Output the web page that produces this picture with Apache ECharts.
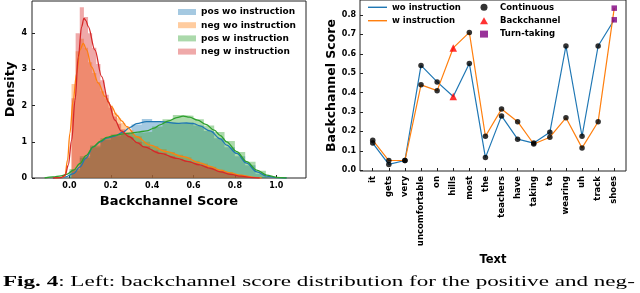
<!DOCTYPE html>
<html><head><meta charset="utf-8">
<script src="https://cdn.jsdelivr.net/npm/echarts@6/dist/echarts.min.js"></script>
<style>html,body{margin:0;padding:0;background:#fff}#c{width:640px;height:293px}</style>
</head><body><div id="c"></div>
<script>
// ---------- Left chart: density of backchannel scores ----------
const histLabels = ['pos wo instruction', 'neg wo instruction', 'pos w instruction', 'neg w instruction'];

const posEdges = [0,0.05,0.1,0.15,0.2,0.25,0.3,0.35,0.4,0.45,0.5,0.55,0.6,0.65,0.7,0.75,0.8,0.85,0.9,0.95,1.0];
const posWoHeights = [0.2,0.55,0.85,1.05,1.15,1.25,1.48,1.63,1.56,1.55,1.5,1.55,1.45,1.3,1.1,0.85,0.6,0.35,0.12,0.03];
const posWHeights  = [0.25,0.6,0.9,1.1,1.2,1.22,1.25,1.28,1.42,1.62,1.74,1.72,1.62,1.45,1.27,1.02,0.72,0.45,0.2,0.05];

const negEdges = [0.01,0.03,0.05,0.07,0.09,0.11,0.13,0.15,0.17,0.19,0.21,0.23,0.25,0.27,0.29,0.31,0.35,0.39,0.43,0.47,0.51,0.55,0.59,0.63,0.67,0.71,0.75,0.79,0.83,0.87,0.91];
const negWoHeights = [2.6,3.5,3.85,3.6,3.2,2.9,2.65,2.4,2.2,2.0,1.8,1.65,1.52,1.42,1.32,1.15,1.0,0.88,0.8,0.72,0.64,0.57,0.48,0.4,0.31,0.23,0.16,0.1,0.05,0.02];
const negWHeights  = [2.2,4.0,4.72,4.45,4.0,3.6,3.15,2.7,2.3,1.95,1.7,1.5,1.35,1.22,1.12,1.0,0.88,0.76,0.7,0.6,0.53,0.47,0.4,0.33,0.26,0.19,0.13,0.07,0.03,0.0];

const kdePosWo = [[-0.08,0],[-0.04,0.01],[-0.02,0.03],[0.02,0.12],[0.051,0.31],[0.08,0.55],[0.115,0.86],[0.15,1.0],[0.18,1.1],[0.22,1.16],[0.26,1.27],[0.293,1.4],[0.325,1.5],[0.373,1.56],[0.438,1.56],[0.519,1.51],[0.567,1.52],[0.6,1.5],[0.631,1.44],[0.68,1.3],[0.73,1.08],[0.76,0.91],[0.809,0.68],[0.857,0.41],[0.906,0.17],[0.954,0.05],[1.0,0.01],[1.05,0]];
const kdeNegWo = [[-0.07,0],[-0.04,0.01],[-0.022,0.05],[-0.009,0.5],[0.002,1.23],[0.018,2.15],[0.035,2.9],[0.051,3.54],[0.067,3.72],[0.083,3.54],[0.107,3.07],[0.14,2.62],[0.172,2.25],[0.204,1.97],[0.228,1.74],[0.253,1.58],[0.277,1.42],[0.325,1.14],[0.389,0.91],[0.47,0.73],[0.551,0.59],[0.631,0.42],[0.68,0.32],[0.728,0.22],[0.78,0.14],[0.825,0.08],[0.89,0.02],[0.93,0]];
const kdePosW = [[-0.12,0],[-0.08,0.03],[-0.04,0.06],[-0.014,0.1],[0.02,0.22],[0.051,0.4],[0.08,0.62],[0.115,0.86],[0.15,1.02],[0.18,1.12],[0.22,1.18],[0.26,1.22],[0.293,1.24],[0.33,1.27],[0.373,1.3],[0.41,1.38],[0.438,1.47],[0.48,1.58],[0.519,1.67],[0.55,1.71],[0.58,1.68],[0.62,1.6],[0.66,1.48],[0.7,1.32],[0.73,1.17],[0.76,1.0],[0.809,0.73],[0.857,0.45],[0.906,0.22],[0.954,0.08],[1.0,0.02],[1.05,0]];
const kdeNegW = [[-0.08,0],[-0.04,0.01],[-0.02,0.08],[-0.006,0.35],[0.011,1.05],[0.027,2.15],[0.043,3.35],[0.059,4.18],[0.07,4.41],[0.08,4.35],[0.091,4.18],[0.123,3.54],[0.156,2.8],[0.188,2.1],[0.22,1.6],[0.25,1.3],[0.29,1.14],[0.33,0.97],[0.36,0.86],[0.44,0.68],[0.52,0.54],[0.57,0.46],[0.63,0.36],[0.68,0.27],[0.73,0.17],[0.78,0.1],[0.83,0.05],[0.88,0.01],[0.92,0]];

const leftXTicks = [0, 0.2, 0.4, 0.6, 0.8, 1.0];
const leftYTicks = [0, 1, 2, 3, 4];

// ---------- Right chart: per-word backchannel score ----------
const words = ['it','gets','very','uncomfortable','on','hills','most','the','teachers','have','taking','to','wearing','uh','track','shoes'];
const woInstruction = [0.14,0.03,0.05,0.54,0.455,0.38,0.55,0.065,0.28,0.16,0.14,0.195,0.64,0.175,0.64,0.775];
const wInstruction  = [0.155,0.05,0.05,0.44,0.41,0.63,0.71,0.175,0.315,0.25,0.135,0.17,0.27,0.115,0.25,0.835];
const wordTypes = ['Continuous','Continuous','Continuous','Continuous','Continuous','Backchannel','Continuous','Continuous','Continuous','Continuous','Continuous','Continuous','Continuous','Continuous','Continuous','Turn-taking'];
const rightYTicks = [0,0.1,0.2,0.3,0.4,0.5,0.6,0.7,0.8];

// ---------- build ----------
const C = {blue:'#1f77b4', orange:'#ff7f0e', green:'#2ca02c', red:'#d62728'};
const A = {blue:'rgba(31,119,180,0.4)', orange:'rgba(255,127,14,0.4)', green:'rgba(44,160,44,0.4)', red:'rgba(214,39,40,0.4)'};
const FONT = 'DejaVu Sans';

function histPoints(edges, heights) {
  const pts = [[edges[0], 0]];
  for (let i = 0; i < heights.length; i++) pts.push([edges[i], heights[i]]);
  pts.push([edges[edges.length - 1], heights[heights.length - 1]]);
  pts.push([edges[edges.length - 1], 0]);
  return pts;
}
function histSeries(name, edges, heights, col) {
  return {type:'line', name, xAxisIndex:0, yAxisIndex:0, step:'end', symbol:'none',
    data: histPoints(edges, heights), lineStyle:{width:0, opacity:0},
    areaStyle:{color:col, opacity:1}, itemStyle:{color:col}, silent:true};
}
function kdeSeries(name, pts, col) {
  return {type:'line', name, xAxisIndex:0, yAxisIndex:0, symbol:'none', smooth:0.35, smoothMonotone:'x',
    data: pts, lineStyle:{width:1.3, color:col}, itemStyle:{color:col}, silent:true};
}
const markerCfg = {
  'Continuous': {symbol:'circle', size:5.5, color:'#000'},
  'Backchannel': {symbol:'triangle', size:7.5, color:'#ff0000'},
  'Turn-taking': {symbol:'rect', size:5.5, color:'#800080'}
};
function markerSeries(type) {
  const data = [];
  words.forEach((w, i) => {
    if (wordTypes[i] === type) { data.push([i, woInstruction[i]]); data.push([i, wInstruction[i]]); }
  });
  const m = markerCfg[type];
  return {type:'scatter', name:type, xAxisIndex:1, yAxisIndex:1, symbol:m.symbol, symbolSize:m.size,
    itemStyle:{color:m.color}, data, z:5};
}

const axisText = {fontFamily:FONT, fontWeight:'bold', fontSize:8, color:'#000'};
const nameText = {fontFamily:FONT, fontWeight:'bold', fontSize:13, color:'#000'};
const noLine = {show:false, onZero:false};

const option = {
  animation:false,
  backgroundColor:'#fff',
  grid:[
    {left:32, top:1, width:274, height:177, show:true, borderColor:'#222', borderWidth:1, backgroundColor:'transparent'},
    {left:360, top:-1, width:266, height:172, show:true, borderColor:'#222', borderWidth:1, backgroundColor:'transparent'}
  ],
  xAxis:[
    {type:'value', gridIndex:0, min:-0.181, max:1.144,
      axisLine:noLine, splitLine:{show:false},
      axisTick:{inside:true, length:3, customValues:leftXTicks, lineStyle:{color:'#222'}},
      axisLabel:{customValues:leftXTicks, margin:4, formatter:v=>v.toFixed(1), ...axisText},
      name:'Backchannel Score', nameLocation:'middle', nameGap:14, nameTextStyle:nameText},
    {type:'value', gridIndex:1, min:-0.79, max:15.73,
      axisLine:noLine, splitLine:{show:false},
      axisTick:{inside:true, length:3, customValues:words.map((w,i)=>i), lineStyle:{color:'#222'}},
      axisLabel:{customValues:words.map((w,i)=>i), rotate:90, margin:5, formatter:v=>words[Math.round(v)], ...axisText, fontSize:8.5},
      name:'Text', nameLocation:'middle', nameGap:71, nameTextStyle:{...nameText, fontSize:11.5}}
  ],
  yAxis:[
    {type:'value', gridIndex:0, min:0, max:4.89,
      axisLine:noLine, splitLine:{show:false},
      axisTick:{inside:true, length:3, customValues:leftYTicks, lineStyle:{color:'#222'}},
      axisLabel:{customValues:leftYTicks, margin:5, ...axisText},
      name:'Density', nameLocation:'middle', nameGap:13, nameTextStyle:nameText},
    {type:'value', gridIndex:1, min:-0.004, max:0.877,
      axisLine:noLine, splitLine:{show:false},
      axisTick:{inside:true, length:3, customValues:rightYTicks, lineStyle:{color:'#222'}},
      axisLabel:{customValues:rightYTicks, margin:4, formatter:v=>v.toFixed(1), ...axisText},
      name:'Backchannel Score', nameLocation:'middle', nameGap:22, nameTextStyle:{...nameText, fontSize:12.5}}
  ],
  legend:[
    {left:178, top:6.5, orient:'vertical', padding:0, itemWidth:18, itemHeight:6, itemGap:2.2,
      textStyle:{fontFamily:FONT, fontWeight:'bold', fontSize:9, lineHeight:11, color:'#000'},
      data:[
        {name:histLabels[0], icon:'rect', itemStyle:{color:A.blue}},
        {name:histLabels[1], icon:'rect', itemStyle:{color:A.orange}},
        {name:histLabels[2], icon:'rect', itemStyle:{color:A.green}},
        {name:histLabels[3], icon:'rect', itemStyle:{color:A.red}}
      ], selectedMode:false},
    {left:368, top:1.8, orient:'vertical', padding:0, itemWidth:19, itemHeight:8, itemGap:2.4,
      textStyle:{fontFamily:FONT, fontWeight:'bold', fontSize:8.5, lineHeight:11, color:'#000'},
      data:[
        {name:'wo instruction', icon:'path://M0,0 H40 V3 H0 Z', itemStyle:{color:C.blue}},
        {name:'w instruction', icon:'path://M0,0 H40 V3 H0 Z', itemStyle:{color:C.orange}}
      ], selectedMode:false},
    {left:480, top:1.8, orient:'vertical', padding:0, itemWidth:8, itemHeight:7, itemGap:2.4,
      textStyle:{fontFamily:FONT, fontWeight:'bold', fontSize:8.5, lineHeight:11, color:'#000', padding:[0,0,0,7]},
      data:[
        {name:'Continuous', icon:'circle', itemStyle:{color:'#000'}},
        {name:'Backchannel', icon:'triangle', itemStyle:{color:'#ff0000'}},
        {name:'Turn-taking', icon:'rect', itemStyle:{color:'#800080'}}
      ], selectedMode:false}
  ],
  graphic:[
    {type:'text', x:3, y:290, scaleX:1.54, scaleY:1, originX:0, originY:0,
      style:{text:'{b|Fig. 4}: Left: backchannel score distribution for the positive and neg-',
        fontFamily:'Liberation Serif', fontSize:15, fill:'#000', verticalAlign:'bottom',
        rich:{b:{fontFamily:'Liberation Serif', fontSize:15, fontWeight:'bold', fill:'#000'}}}}
  ],
  series:[
    histSeries(histLabels[0], posEdges, posWoHeights, A.blue),
    kdeSeries('kde0', kdePosWo, C.blue),
    histSeries(histLabels[1], negEdges, negWoHeights, A.orange),
    kdeSeries('kde1', kdeNegWo, C.orange),
    histSeries(histLabels[2], posEdges, posWHeights, A.green),
    kdeSeries('kde2', kdePosW, C.green),
    histSeries(histLabels[3], negEdges, negWHeights, A.red),
    kdeSeries('kde3', kdeNegW, C.red),
    {type:'line', name:'wo instruction', xAxisIndex:1, yAxisIndex:1, symbol:'none',
      data: woInstruction.map((v,i)=>[i,v]), lineStyle:{width:1.2, color:C.blue}, itemStyle:{color:C.blue}},
    {type:'line', name:'w instruction', xAxisIndex:1, yAxisIndex:1, symbol:'none',
      data: wInstruction.map((v,i)=>[i,v]), lineStyle:{width:1.2, color:C.orange}, itemStyle:{color:C.orange}},
    markerSeries('Continuous'),
    markerSeries('Backchannel'),
    markerSeries('Turn-taking')
  ]
};
const chart = echarts.init(document.getElementById('c'), null, {renderer:'canvas'});
chart.setOption(option);
</script></body></html>
